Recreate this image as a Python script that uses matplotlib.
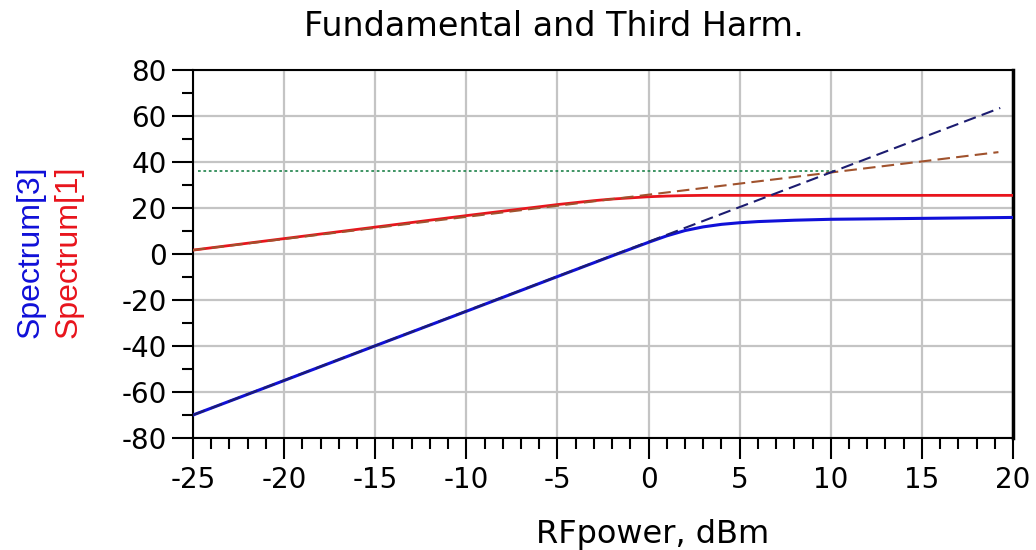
import matplotlib
matplotlib.use("Agg")
import matplotlib.pyplot as plt
from matplotlib.ticker import MultipleLocator

plt.rcParams['font.family'] = ['DejaVu Sans']
plt.rcParams['axes.unicode_minus'] = False

# swept input power, dBm
pin_fund = [-25, -20, -15, -10, -5, -3, -2, -1, 0, 1, 2, 3, 5, 8, 12, 16, 20]
fund_out = [1.7, 6.7, 11.7, 16.7, 21.5, 23.2, 23.9, 24.4, 24.9, 25.2, 25.4, 25.5, 25.5, 25.5, 25.5, 25.5, 25.5]

pin_third = [-25, -20, -15, -10, -5, -2, 0, 1, 2, 3, 4, 5, 6, 8, 10, 15, 20]
third_out = [-70, -55, -39.9, -24.9, -9.8, -0.8, 5.1, 7.9, 10.2, 11.8, 12.9, 13.6, 14.1, 14.7, 15.1, 15.5, 15.9]

# small-signal extrapolations and intercept level
fund_ext_x = [-25, 19.2]
fund_ext_y = [1.7, 44.3]
third_ext_x = [-25, 19.3]
third_ext_y = [-70, 63.5]
ip3_x = [-24.7, 10.2]
ip3_y = [36, 36]

fig = plt.figure(figsize=(10.36, 5.5), dpi=100)
ax = fig.add_axes([0.1863, 0.2036, 0.7915, 0.6691])

ax.plot(ip3_x, ip3_y, color='#2e8b57', ls=(0, (1.5, 1.5)), lw=1.3, zorder=3)
ax.plot(pin_fund, fund_out, color='#e8141c', lw=2.0, zorder=4)
ax.plot(pin_third, third_out, color='#1010d8', lw=2.2, zorder=4)
ax.plot(fund_ext_x, fund_ext_y, color='#a0522d', ls=(0, (6, 3)), lw=1.5, zorder=5)
ax.plot(third_ext_x, third_ext_y, color='#1c1c70', ls=(0, (6, 3)), lw=1.5, zorder=5)

ax.set_xlim(-25, 20)
ax.set_ylim(-80, 80)
ax.xaxis.set_major_locator(MultipleLocator(5))
ax.xaxis.set_minor_locator(MultipleLocator(1))
ax.yaxis.set_major_locator(MultipleLocator(20))
ax.yaxis.set_minor_locator(MultipleLocator(10))
ax.grid(True, which='major', color='#c4c4c4', lw=1.6)
ax.set_axisbelow(True)

ax.tick_params(which='major', length=15, width=1.5, labelsize=20,
               top=False, right=False)
ax.tick_params(axis='x', which='major', pad=5)
ax.tick_params(axis='y', which='major', pad=4)
ax.tick_params(which='minor', length=8, width=1.5, top=False, right=False)
for s in ax.spines.values():
    s.set_linewidth(1.5)
ax.spines['right'].set_linewidth(2.5)

fig.text(0.535, 0.952, 'Fundamental and Third Harm.', fontsize=24,
         ha='center', va='center')
fig.text(0.630, 0.013, 'RFpower, dBm', fontsize=23, ha='center', va='baseline')

fig.text(0.029, 0.542, 'Spectrum[3]', color='#1010d8', fontsize=23,
         family='Liberation Sans', rotation=90, ha='center', va='center')
fig.text(0.066, 0.542, 'Spectrum[1]', color='#e8141c', fontsize=23,
         family='Liberation Sans', rotation=90, ha='center', va='center')

fig.savefig('out.png', dpi=100)
